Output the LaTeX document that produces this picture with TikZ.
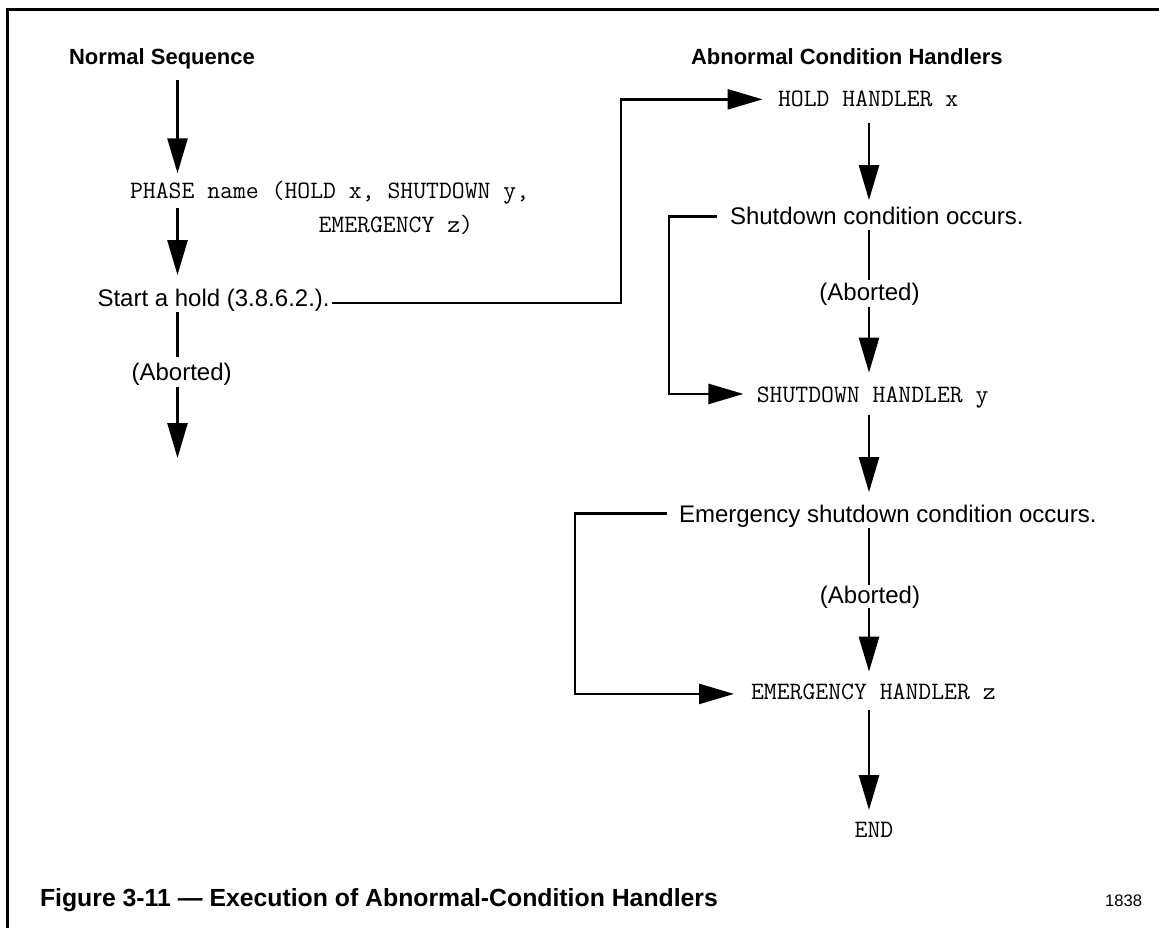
\documentclass[tikz,border=0pt]{standalone}
\usepackage{fontspec}
\setmainfont{Liberation Sans}
\usetikzlibrary{arrows.meta}

\begin{document}
\begin{tikzpicture}[x=1pt,y=-1pt,
  txt/.style={inner sep=0pt, outer sep=0pt},
  lbl/.style={txt, font=\fontsize{24}{28}\selectfont},
  code/.style={txt, font=\ttfamily\fontsize{25}{30}\selectfont},
  head/.style={txt, font=\bfseries\fontsize{22}{26}\selectfont},
  capt/.style={txt, font=\bfseries\fontsize{24.8}{29}\selectfont},
  fignum/.style={txt, font=\fontsize{16.6}{20}\selectfont},
  line/.style={line width=2.6pt, draw=black},
  arr/.style={line, -{Triangle[length=35pt,width=20pt]}},
  frame/.style={line width=3pt, draw=black}]

\useasboundingbox (0,0) rectangle (1159,928);
\draw[frame] (7,928) -- (7,10) -- (1159,10);

% column positions and bends of the side connectors
\coordinate (xL) at (177.5,0);
\coordinate (xR) at (869,0);
\coordinate (jogA) at (621,0);
\coordinate (jogB) at (669,0);
\coordinate (jogC) at (575,0);

% normal sequence
\node[head, anchor=base west] (ns) at (69,65) {Normal Sequence};
\node[code, anchor=base west] (phase) at (130,199) {PHASE name (HOLD x, SHUTDOWN y,};
\node[code, anchor=base west] (phase2) at (318.5,233) {EMERGENCY z)};
\node[lbl, anchor=base west] (start) at (97.5,306.7) {Start a hold (3.8.6.2.).};
\node[lbl, anchor=base] (abL) at (181.6,380) {(Aborted)};
\coordinate (endL) at (177.5,458);

% abnormal condition handlers
\node[head, anchor=base west] (ach) at (691,65) {Abnormal Condition Handlers};
\node[code, anchor=base west] (hh) at (778,107) {HOLD HANDLER x};
\node[lbl, anchor=base west] (sd) at (730,225) {Shutdown condition occurs.};
\node[lbl, anchor=base] (abR1) at (869.5,300) {(Aborted)};
\node[code, anchor=base west] (shh) at (756.8,402) {SHUTDOWN HANDLER y};
\node[lbl, anchor=base west] (em) at (679,522.7) {Emergency shutdown condition occurs.};
\node[lbl, anchor=base] (abR2) at (870,603) {(Aborted)};
\node[code, anchor=base west] (ehz) at (751,699) {EMERGENCY HANDLER z};
\node[code, anchor=base] (endnode) at (874,837) {END};

% caption
\node[capt, anchor=base west] (cap) at (40,906.7) {Figure 3-11 — Execution of Abnormal-Condition Handlers};
\node[fignum, anchor=base east] (num) at (1142,906.7) {1838};

% left column flow
\draw[arr, shorten <=10.4pt, shorten >=8.3pt] (ns.south -| xL) -- (phase.north -| xL);
\draw[arr, shorten <=3.8pt, shorten >=14.2pt] (phase.south -| xL) -- (start.north -| xL);
\draw[line, shorten <=0.2pt, shorten >=5.5pt] (start.south -| xL) -- (abL.north -| xL);
\draw[arr, shorten <=1.9pt] (abL.south -| xL) -- (endL);

% right column flow
\draw[arr, shorten <=16pt, shorten >=7.5pt] (hh.south -| xR) -- (sd.north -| xR);
\draw[line, shorten <=5pt, shorten >=2.5pt] (sd.south -| xR) -- (abR1.north -| xR);
\draw[arr, shorten <=1.9pt, shorten >=13.7pt] (abR1.south -| xR) -- (shh.north -| xR);
\draw[arr, shorten <=7.5pt, shorten >=13.2pt] (shh.south -| xR) -- (em.north -| xR);
\draw[line, shorten >=0.5pt] (em.south -| xR) -- (abR2.north -| xR);
\draw[arr, shorten >=11.7pt] (abR2.south -| xR) -- (ehz.north -| xR);
\draw[arr, shorten <=11pt, shorten >=11.7pt] (ehz.south -| xR) -- (endnode.north -| xR);

% transfers to the handlers
\draw[arr, shorten <=2pt, shorten >=15.5pt] ([yshift=-2.5pt]start.east) -- ([yshift=-2.5pt]start.east -| jogA) |- (hh.west);
\draw[arr, shorten <=13.3pt, shorten >=13.4pt] (sd.west) -- (sd.west -| jogB) |- ([yshift=3.1pt]shh.west);
\draw[arr, shorten <=12pt, shorten >=17pt] ([yshift=3.2pt]em.west) -- ([yshift=3.2pt]em.west -| jogC) |- ([yshift=-2.6pt]ehz.west);
\end{tikzpicture}
\end{document}
